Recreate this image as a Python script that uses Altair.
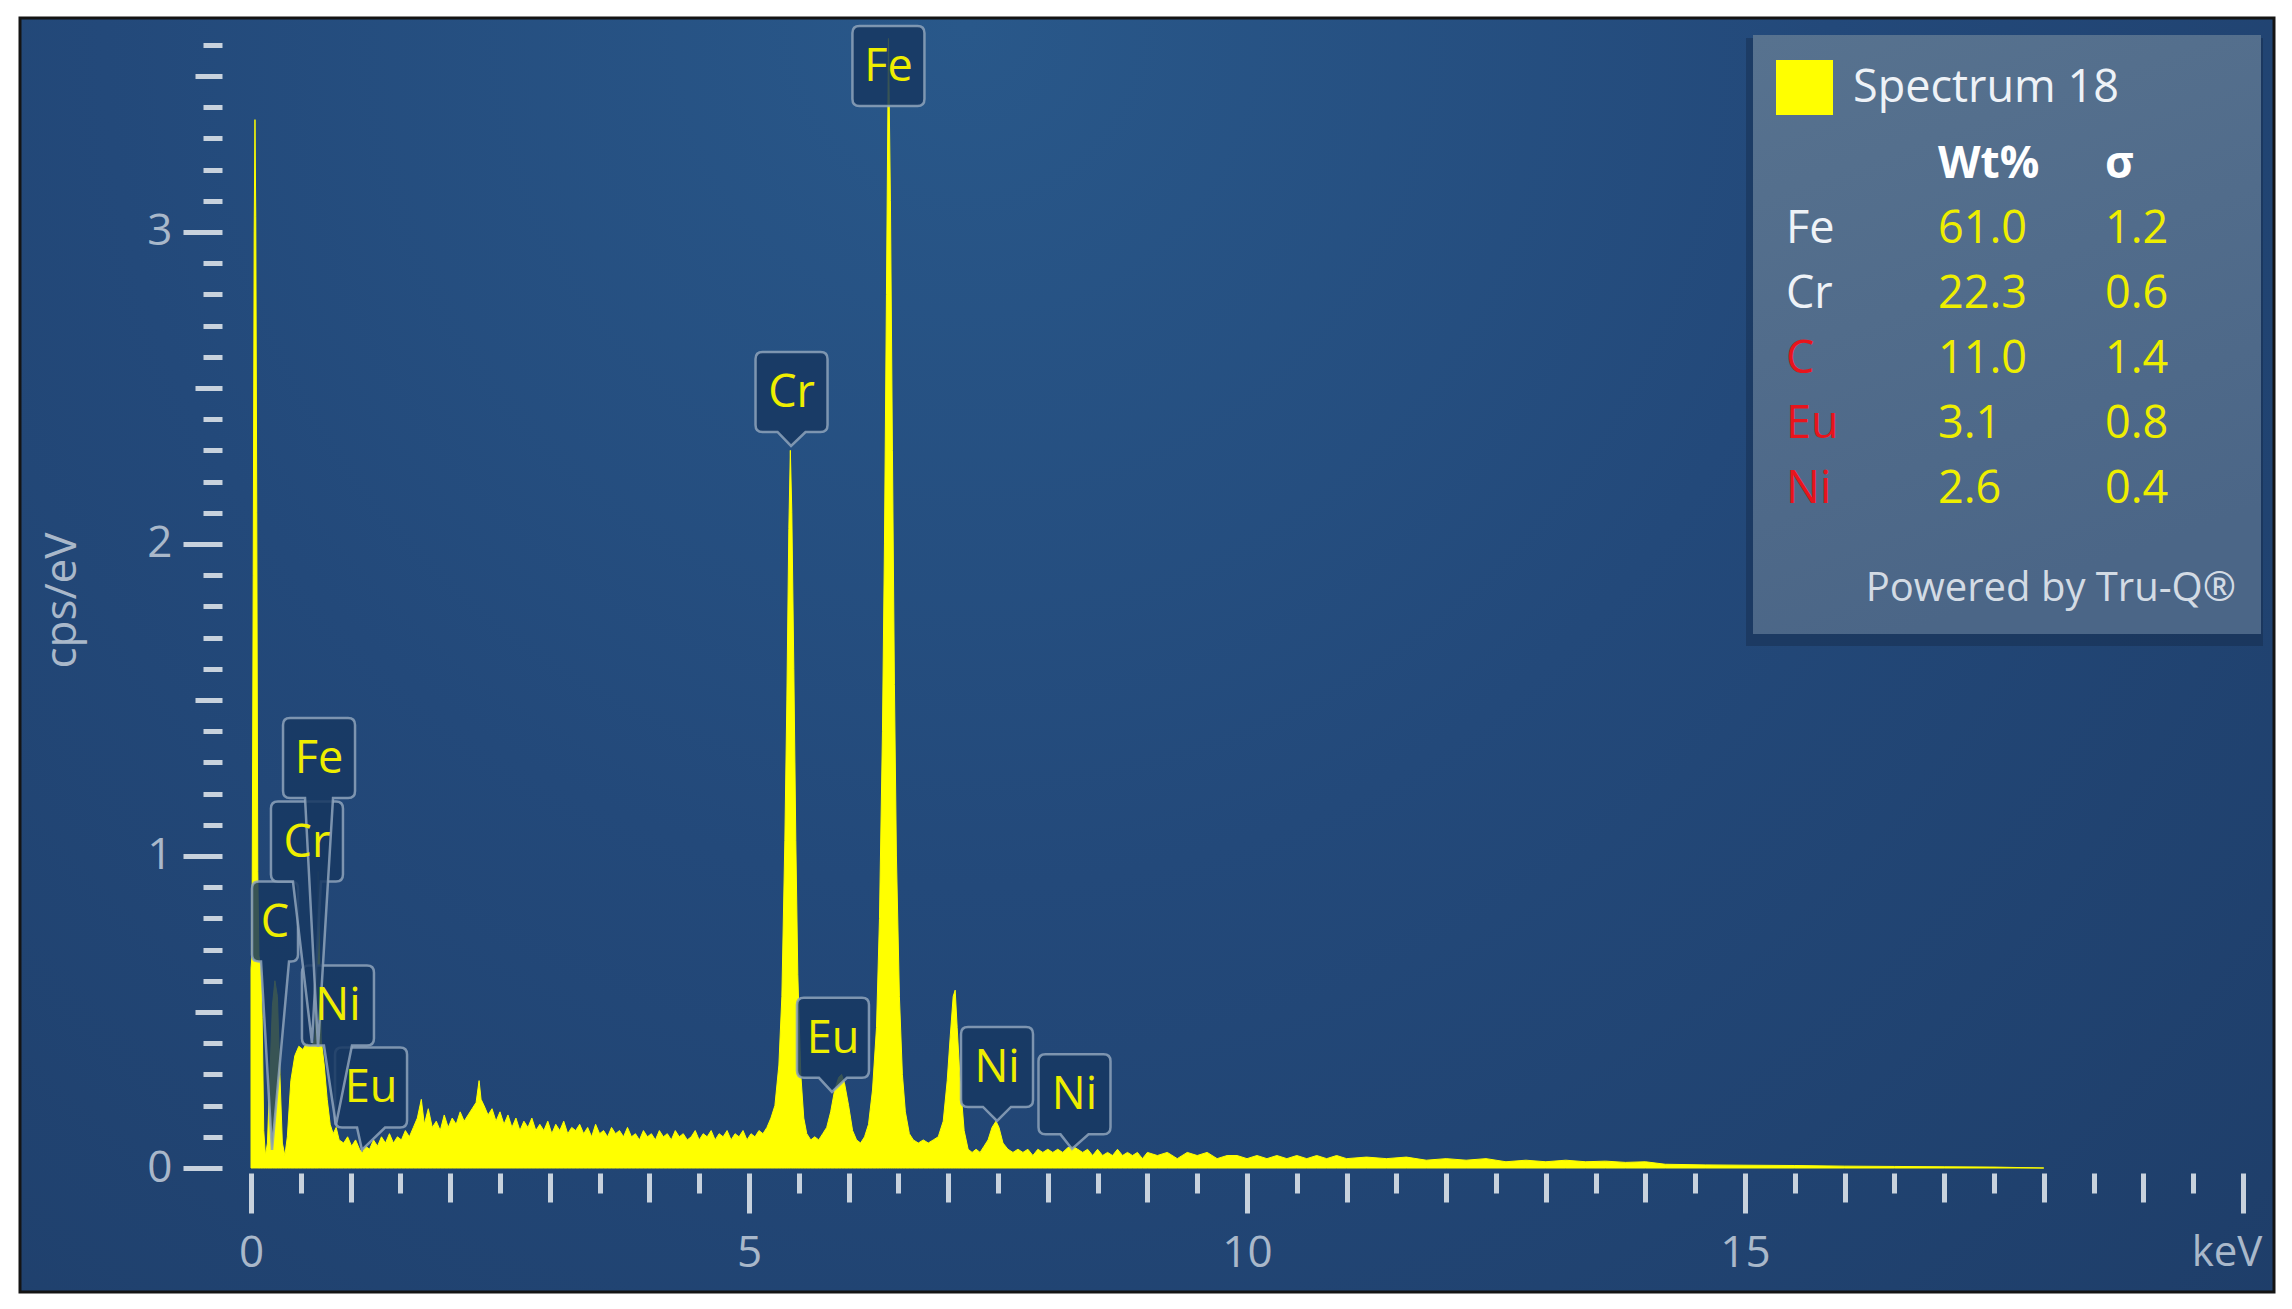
import altair as alt
import pandas as pd

# ---------------- data ----------------
ENERGY_KEV = [
    0.000, 0.010, 0.022, 0.032, 0.040, 0.048, 0.058, 0.068, 0.080, 0.098,
    0.112, 0.128, 0.145, 0.165, 0.190, 0.215, 0.240, 0.265, 0.290, 0.315,
    0.340, 0.365, 0.400, 0.440, 0.480, 0.520, 0.560, 0.600, 0.640, 0.662,
    0.675, 0.688, 0.705, 0.735, 0.765, 0.795, 0.825, 0.855, 0.885, 0.93,
    0.97, 1.01, 1.05, 1.09, 1.12, 1.15, 1.19, 1.23, 1.27, 1.31,
    1.35, 1.39, 1.43, 1.47, 1.51, 1.55, 1.59, 1.63, 1.67, 1.71,
    1.74, 1.78, 1.82, 1.86, 1.90, 1.94, 1.98, 2.02, 2.06, 2.10,
    2.14, 2.18, 2.22, 2.26, 2.29, 2.31, 2.34, 2.38, 2.42, 2.46,
    2.50, 2.54, 2.58, 2.62, 2.66, 2.70, 2.74, 2.78, 2.82, 2.86,
    2.90, 2.94, 2.98, 3.02, 3.06, 3.10, 3.14, 3.18, 3.22, 3.26,
    3.30, 3.34, 3.38, 3.42, 3.46, 3.50, 3.54, 3.58, 3.62, 3.66,
    3.70, 3.74, 3.78, 3.82, 3.86, 3.90, 3.94, 3.98, 4.02, 4.06,
    4.10, 4.14, 4.18, 4.22, 4.26, 4.30, 4.34, 4.38, 4.42, 4.46,
    4.50, 4.54, 4.58, 4.62, 4.66, 4.70, 4.74, 4.78, 4.82, 4.86,
    4.90, 4.94, 4.98, 5.02, 5.06, 5.10, 5.14, 5.18, 5.22, 5.26,
    5.30, 5.33, 5.36, 5.38, 5.40, 5.415, 5.43, 5.45, 5.47, 5.49,
    5.52, 5.55, 5.58, 5.62, 5.66, 5.70, 5.74, 5.78, 5.82, 5.86,
    5.90, 5.93, 5.96, 6.00, 6.04, 6.08, 6.12, 6.16, 6.20, 6.24,
    6.28, 6.31, 6.34, 6.36, 6.38, 6.40, 6.42, 6.44, 6.46, 6.48,
    6.51, 6.54, 6.57, 6.61, 6.65, 6.70, 6.75, 6.80, 6.85, 6.90,
    6.95, 6.99, 7.02, 7.05, 7.07, 7.09, 7.12, 7.16, 7.20, 7.24,
    7.28, 7.32, 7.36, 7.40, 7.44, 7.48, 7.51, 7.55, 7.60, 7.65,
    7.70, 7.75, 7.80, 7.85, 7.90, 7.95, 8.00, 8.05, 8.10, 8.15,
    8.20, 8.25, 8.30, 8.35, 8.40, 8.45, 8.50, 8.55, 8.60, 8.65,
    8.70, 8.75, 8.80, 8.85, 8.90, 8.95, 9.00, 9.10, 9.20, 9.30,
    9.40, 9.50, 9.60, 9.70, 9.80, 9.90, 10.0, 10.1, 10.2, 10.3,
    10.4, 10.5, 10.6, 10.7, 10.8, 10.9, 11.0, 11.2, 11.4, 11.6,
    11.8, 12.0, 12.2, 12.4, 12.6, 12.8, 13.0, 13.2, 13.4, 13.6,
    13.8, 14.0, 14.2, 14.6, 15.0, 15.5, 16.0, 16.5, 17.0, 17.5,
    18.0,
]
COUNTS_CPS = [
    0.64, 0.68, 1.90, 3.00, 3.36, 3.05, 2.10, 0.95, 0.68, 0.64,
    0.48, 0.12, 0.04, 0.08, 0.30, 0.52, 0.60, 0.55, 0.30, 0.08,
    0.04, 0.10, 0.28, 0.36, 0.39, 0.38, 0.40, 0.39, 0.41, 0.58,
    0.95, 0.68, 0.41, 0.33, 0.22, 0.14, 0.11, 0.13, 0.09, 0.08,
    0.10, 0.07, 0.09, 0.06, 0.05, 0.07, 0.06, 0.09, 0.07, 0.10,
    0.08, 0.11, 0.08, 0.10, 0.09, 0.12, 0.10, 0.13, 0.16, 0.22,
    0.14, 0.19, 0.13, 0.15, 0.12, 0.17, 0.13, 0.16, 0.14, 0.18,
    0.15, 0.17, 0.19, 0.21, 0.28, 0.22, 0.20, 0.17, 0.19, 0.15,
    0.18, 0.14, 0.17, 0.13, 0.16, 0.12, 0.15, 0.13, 0.16, 0.12,
    0.14, 0.12, 0.15, 0.11, 0.14, 0.12, 0.15, 0.11, 0.13, 0.12,
    0.14, 0.11, 0.13, 0.10, 0.14, 0.11, 0.12, 0.10, 0.13, 0.11,
    0.12, 0.10, 0.13, 0.10, 0.11, 0.09, 0.12, 0.10, 0.11, 0.09,
    0.12, 0.10, 0.11, 0.09, 0.12, 0.10, 0.11, 0.09, 0.10, 0.12,
    0.09, 0.11, 0.10, 0.12, 0.09, 0.11, 0.10, 0.12, 0.09, 0.11,
    0.10, 0.12, 0.09, 0.11, 0.10, 0.12, 0.11, 0.13, 0.16, 0.20,
    0.33, 0.55, 1.05, 1.50, 2.05, 2.30, 2.10, 1.60, 1.05, 0.62,
    0.30, 0.16, 0.11, 0.09, 0.10, 0.09, 0.11, 0.13, 0.18, 0.25,
    0.29, 0.30, 0.27, 0.20, 0.12, 0.09, 0.08, 0.10, 0.14, 0.25,
    0.45, 0.80, 1.40, 2.00, 2.80, 3.62, 3.10, 2.30, 1.55, 1.00,
    0.55, 0.30, 0.18, 0.11, 0.09, 0.08, 0.09, 0.08, 0.09, 0.10,
    0.15, 0.28, 0.42, 0.55, 0.57, 0.45, 0.28, 0.12, 0.06, 0.05,
    0.06, 0.05, 0.07, 0.09, 0.13, 0.15, 0.13, 0.08, 0.06, 0.05,
    0.06, 0.05, 0.06, 0.04, 0.06, 0.05, 0.06, 0.05, 0.06, 0.05,
    0.065, 0.07, 0.06, 0.05, 0.06, 0.04, 0.06, 0.04, 0.05, 0.04,
    0.06, 0.04, 0.05, 0.04, 0.05, 0.03, 0.05, 0.04, 0.05, 0.03,
    0.05, 0.04, 0.05, 0.03, 0.04, 0.04, 0.03, 0.04, 0.03, 0.04,
    0.03, 0.04, 0.03, 0.04, 0.03, 0.04, 0.03, 0.035, 0.03, 0.035,
    0.025, 0.03, 0.025, 0.03, 0.02, 0.025, 0.02, 0.025, 0.02, 0.022,
    0.018, 0.02, 0.012, 0.010, 0.009, 0.008, 0.006, 0.005, 0.004, 0.003,
    0.0,
]

# peak labels: text, pointer tip (keV, cps) and box centre (keV, cps)
LABEL_TEXT = ["Fe", "Cr", "Eu", "Ni", "Ni", "Eu", "Ni", "C", "Cr", "Fe"]
LABEL_TIP_KEV = [6.40, 5.422, 5.833, 7.490, 8.243, 1.114, 0.853, 0.211, 0.612, 0.673]
LABEL_TIP_CPS = [3.404, 2.314, 0.244, 0.151, 0.061, 0.058, 0.138, 0.058, 0.401, 0.388]
LABEL_BOX_KEV = [6.40, 5.427, 5.843, 7.490, 8.268, 1.205, 0.873, 0.241, 0.562, 0.683]
LABEL_BOX_CPS = [3.532, 2.487, 0.417, 0.324, 0.236, 0.258, 0.521, 0.790, 1.046, 1.314]

# quantification table
SPECTRUM_NAME = "Spectrum 18"
TABLE_ELEMENTS = ["Fe", "Cr", "C", "Eu", "Ni"]
TABLE_WT = [61.0, 22.3, 11.0, 3.1, 2.6]
TABLE_SIGMA = [1.2, 0.6, 1.4, 0.8, 0.4]
TABLE_FLAGGED = [False, False, True, True, True]

X_TICKS = [i / 2 for i in range(41)]
Y_TICKS = [i / 10 for i in range(37)]

# ---------------- layout ----------------
W, H = 1992, 1142
X_DOMAIN = [0, 20]
Y_DOMAIN = [0, 3.66]
PXK = W / (X_DOMAIN[1] - X_DOMAIN[0])
PXC = H / (Y_DOMAIN[1] - Y_DOMAIN[0])
FONT = "Open Sans"
AXIS_TEXT = "#a9b8ca"
TICK = "#c8d2dd"
LABEL_YELLOW = "#eeee00"


def label_path(bx, by, tx, ty, w, h):
    cx = (bx - tx) * PXK
    cy = -(by - ty) * PXC
    L, R = cx - w / 2, cx + w / 2
    T, B = cy - h / 2, cy + h / 2
    r = 7
    n = min(14, w / 2 - r)
    f = lambda v: f"{v:.1f}"
    return (
        f"M{f(L + r)},{f(T)}H{f(R - r)}Q{f(R)},{f(T)} {f(R)},{f(T + r)}"
        f"V{f(B - r)}Q{f(R)},{f(B)} {f(R - r)},{f(B)}H{f(cx + n)}L0,0"
        f"L{f(cx - n)},{f(B)}H{f(L + r)}Q{f(L)},{f(B)} {f(L)},{f(B - r)}"
        f"V{f(T + r)}Q{f(L)},{f(T)} {f(L + r)},{f(T)}Z"
    )


spec_df = pd.DataFrame({"keV": ENERGY_KEV, "cps": COUNTS_CPS})

lab_df = pd.DataFrame({
    "label": LABEL_TEXT,
    "tx": LABEL_TIP_KEV,
    "ty": LABEL_TIP_CPS,
    "bx": LABEL_BOX_KEV,
    "by": LABEL_BOX_CPS,
})
lab_df["path"] = [
    label_path(bx, by, tx, ty, 46 if len(t) == 1 else 72, 80)
    for t, bx, by, tx, ty in zip(lab_df.label, lab_df.bx, lab_df.by, lab_df.tx, lab_df.ty)
]

tab_df = pd.DataFrame({
    "el": TABLE_ELEMENTS,
    "wt": [f"{v:.1f}" for v in TABLE_WT],
    "sig": [f"{v:.1f}" for v in TABLE_SIGMA],
    "flag": TABLE_FLAGGED,
    "row": list(range(len(TABLE_ELEMENTS))),
})

one = pd.DataFrame({"a": [0]})

xaxis = alt.Axis(
    values=X_TICKS, tickCount=500, title=None, domain=False, grid=False, offset=5,
    tickSize={"expr": "datum.value % 5 == 0 ? 40 : (datum.value % 1 == 0 ? 29 : 20)"},
    tickWidth=5, tickColor=TICK,
    labelExpr="datum.value % 5 == 0 && datum.value < 20 ? '' + datum.value : ''",
    labelFont=FONT, labelFontSize=44, labelColor=AXIS_TEXT, labelPadding=18,
    labelOverlap=False, labelFlush=False, zindex=1,
)
yaxis = alt.Axis(
    values=Y_TICKS, tickCount=500, title="cps/eV", domain=False, grid=False, offset=29,
    tickSize={"expr": "round(datum.value*10) % 10 == 0 ? 39 : (round(datum.value*10) % 10 == 5 ? 27 : 19)"},
    tickWidth=5, tickColor=TICK,
    labelExpr="round(datum.value*10) % 10 == 0 ? '' + round(datum.value) : ''",
    labelFont=FONT, labelFontSize=44, labelColor=AXIS_TEXT, labelPadding=11,
    labelOverlap=False, labelFlush=False,
    titleFont=FONT, titleFontSize=44, titleColor=AXIS_TEXT, titleFontWeight="normal",
    titleAngle=270, titleX=-160, titleY=574, titleAlign="center", titleBaseline="middle",
    zindex=1,
)

frame = alt.Chart(one).mark_rect(
    fill=alt.RadialGradient(
        gradient="radial", x1=0.42, y1=0.22, r1=0.0, x2=0.42, y2=0.22, r2=0.85,
        stops=[alt.GradientStop(color="#29588a", offset=0),
               alt.GradientStop(color="#23497a", offset=0.45),
               alt.GradientStop(color="#1e3d68", offset=1)],
    ),
    stroke="#141414", strokeWidth=3,
).encode(x=alt.value(-231), x2=alt.value(2023), y=alt.value(-8), y2=alt.value(1266))

area = alt.Chart(spec_df).mark_area(
    color="#ffff00", stroke="#ffff00", strokeWidth=1, interpolate="linear"
).encode(
    x=alt.X("keV:Q", scale=alt.Scale(domain=X_DOMAIN, nice=False, zero=False), axis=xaxis),
    y=alt.Y("cps:Q", scale=alt.Scale(domain=Y_DOMAIN, nice=False), axis=yaxis),
)

boxes = alt.Chart(lab_df).mark_point(
    filled=True, size=4, fill="#173862", fillOpacity=0.86,
    stroke="#8ea3bb", strokeWidth=2.5, strokeOpacity=0.85, opacity=1,
).encode(
    x="tx:Q", y="ty:Q", shape=alt.Shape("path:N", scale=None, legend=None),
)

box_text = alt.Chart(lab_df).mark_text(
    font=FONT, fontSize=45, color=LABEL_YELLOW, align="center", baseline="middle", dy=1,
).encode(x="bx:Q", y="by:Q", text="label:N")

kev = alt.Chart(one).mark_text(
    text="keV", font=FONT, fontSize=42, color=AXIS_TEXT, align="center", baseline="middle",
).encode(x=alt.value(1976), y=alt.value(1227))

# legend panel
shadow = alt.Chart(one).mark_rect(fill="#10233d", opacity=0.35).encode(
    x=alt.value(1495), x2=alt.value(2012), y=alt.value(12), y2=alt.value(620))
panel = alt.Chart(one).mark_rect(
    fill=alt.LinearGradient(
        gradient="linear", x1=0, y1=0, x2=0.3, y2=1,
        stops=[alt.GradientStop(color="#57728f", offset=0),
               alt.GradientStop(color="#4b6687", offset=1)],
    ),
).encode(x=alt.value(1502), x2=alt.value(2010), y=alt.value(9), y2=alt.value(608))
swatch = alt.Chart(one).mark_rect(fill="#ffff00").encode(
    x=alt.value(1525), x2=alt.value(1582), y=alt.value(34), y2=alt.value(89))
spec_name = alt.Chart(one).mark_text(
    text=SPECTRUM_NAME, font=FONT, fontSize=45, color="#eef2f7", align="left", baseline="middle",
).encode(x=alt.value(1602), y=alt.value(62))
hdr_wt = alt.Chart(one).mark_text(
    text="Wt%", font=FONT, fontSize=44, fontWeight="bold", color="#ffffff", align="left", baseline="middle",
).encode(x=alt.value(1687), y=alt.value(139))
hdr_sig = alt.Chart(one).mark_text(
    text="σ", font=FONT, fontSize=44, fontWeight="bold", color="#ffffff", align="left", baseline="middle",
).encode(x=alt.value(1854), y=alt.value(139))

rows = alt.Chart(tab_df).transform_calculate(ypx="203 + 65 * datum.row")
names = rows.mark_text(font=FONT, fontSize=45, align="left", baseline="middle").encode(
    x=alt.value(1535), y=alt.Y("ypx:Q", scale=None), text="el:N",
    color=alt.condition("datum.flag", alt.value("#e8141c"), alt.value("#eef2f7")),
)
wts = rows.mark_text(font=FONT, fontSize=45, align="left", baseline="middle", color=LABEL_YELLOW).encode(
    x=alt.value(1687), y=alt.Y("ypx:Q", scale=None), text="wt:N")
sigs = rows.mark_text(font=FONT, fontSize=45, align="left", baseline="middle", color=LABEL_YELLOW).encode(
    x=alt.value(1854), y=alt.Y("ypx:Q", scale=None), text="sig:N")
powered = alt.Chart(one).mark_text(
    text="Powered by Tru-Q®", font=FONT, fontSize=40, color="#d3dbe4", align="right", baseline="middle",
).encode(x=alt.value(1985), y=alt.value(563))

chart = alt.layer(
    frame, area, boxes, box_text, kev,
    shadow, panel, swatch, spec_name, hdr_wt, hdr_sig, names, wts, sigs, powered,
).properties(
    width=W, height=H,
    autosize=alt.AutoSizeParams(type="none"),
    padding={"left": 243, "top": 18, "right": 37, "bottom": 128},
    background="white",
).configure_view(stroke=None)

chart.save("out.html", embed_options={"renderer": "svg", "actions": False})
